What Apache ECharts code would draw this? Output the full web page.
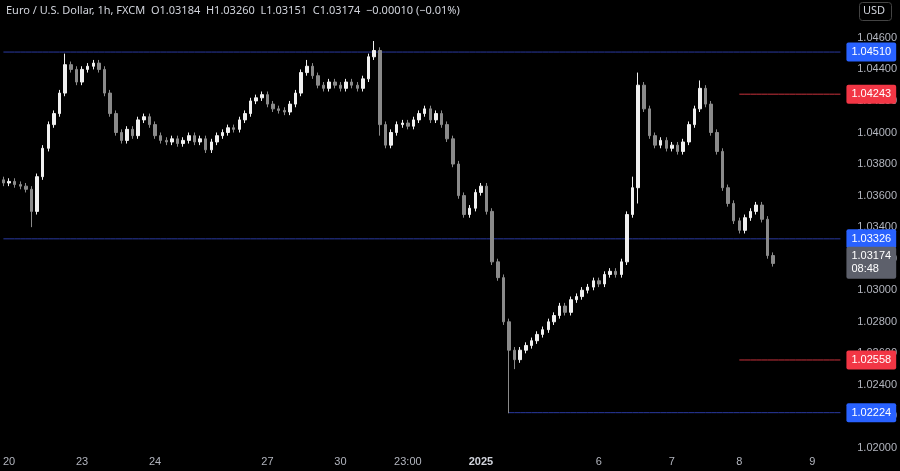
<html style="height: 100%">
<head>
	<meta charset="utf-8">
	<script type="text/javascript" src="https://cdn.jsdelivr.net/npm/echarts@6/dist/echarts.min.js"></script>
</head>
<body style="height: 100%; margin: 0; background: #000">
	<div id="container" style="height:471px;width:900px"></div>
</body>
<script type="text/javascript">
	// 2h candles, closes (open = previous close)
	var closes = [
		1.0368, 1.0369, 1.0367, 1.0366, 1.0364, 1.0350, 1.0372, 1.0390, 1.0405, 1.0412,
		1.0425, 1.0443, 1.0440, 1.0432, 1.0440, 1.0442, 1.0444, 1.0440, 1.0425, 1.0412,
		1.0400, 1.0395, 1.0402, 1.0398, 1.0408, 1.0410, 1.0405, 1.0398, 1.0395, 1.0394,
		1.0396, 1.0393, 1.0395, 1.0398, 1.0394, 1.0396, 1.0389, 1.0394, 1.0398, 1.0400,
		1.0403, 1.0402, 1.0408, 1.0412, 1.0420, 1.0422, 1.0424, 1.0418, 1.0415, 1.0414,
		1.0413, 1.0418, 1.0425, 1.0438, 1.0442, 1.0436, 1.0430, 1.0428, 1.0432, 1.0430,
		1.0428, 1.0432, 1.0430, 1.0428, 1.0434, 1.0448, 1.0452, 1.0405, 1.0392, 1.0400,
		1.0405, 1.0406, 1.0404, 1.0408, 1.0412, 1.0415, 1.0408, 1.0412, 1.0405, 1.0396,
		1.0380, 1.0360, 1.0348, 1.0352, 1.0362, 1.0366, 1.0350, 1.0318, 1.0308, 1.0280,
		1.0262, 1.0256, 1.0262, 1.0265, 1.0268, 1.0272, 1.0275, 1.0280, 1.0284, 1.0290,
		1.0286, 1.0294, 1.0296, 1.0300, 1.0302, 1.0306, 1.0304, 1.0310, 1.0312, 1.0310,
		1.0318, 1.0348, 1.0365, 1.0430, 1.0415, 1.0398, 1.0392, 1.0395, 1.0390, 1.0392,
		1.0388, 1.0394, 1.0405, 1.0415, 1.0428, 1.0418, 1.0400, 1.0388, 1.0365, 1.0355,
		1.0344, 1.0338, 1.0346, 1.0350, 1.0354, 1.0345, 1.0322, 1.0317
	];
	// wick extremes where they stand out
	var highs = { 11: 1.0450, 54: 1.0446, 66: 1.0458, 113: 1.0438, 124: 1.0433, 112: 1.0372 };
	var lows = { 5: 1.0340, 90: 1.0222, 91: 1.0250, 67: 1.0398, 113: 1.0355 };
	var dayLabels = { 1: '20', 14: '23', 27: '24', 47: '27', 60: '30', 72: '23:00', 85: '2025', 106: '6', 119: '7', 131: '8', 144: '9' };
	// [value, first slot, line colour, tag colour]
	var levels = [
		[1.04510, 0, '#2a3aa0', '#2962ff'],
		[1.03326, 0, '#2a3aa0', '#2962ff'],
		[1.04243, 131, '#c8323c', '#f23645'],
		[1.02558, 131, '#c8323c', '#f23645'],
		[1.02224, 90, '#2a3aa0', '#2962ff']
	];
	var lastPrice = 1.03174;
	var slots = 150;

	var cats = [], candles = [];
	for (var i = 0; i < slots; i++) cats.push(dayLabels[i] || '');
	for (var i = 0; i < closes.length; i++) {
		var o = i ? closes[i - 1] : 1.0370, c = closes[i];
		var h = highs[i] || Math.max(o, c) + 0.0002;
		var l = lows[i] || Math.min(o, c) - 0.0002;
		candles.push([o, c, l, h]);
	}

	function levelSeries(v, from, color, bg, txt, hidden) {
		var d = [];
		for (var i = 0; i < slots; i++) d.push(i >= from ? v : null);
		return {
			type: 'line', data: d, showSymbol: false, silent: true, z: 1,
			lineStyle: { color: color, width: 1, opacity: hidden ? 0 : 1 },
			endLabel: { show: true, distance: 6, backgroundColor: bg, color: '#fff', fontSize: 11, padding: [3, 5], lineHeight: 13, borderRadius: 2, formatter: txt }
		};
	}

	var series = [{
		type: 'candlestick',
		data: candles,
		barWidth: 3, z: 3,
		itemStyle: { color: '#f0f0f0', color0: '#8a8a8a', borderColor: '#f0f0f0', borderColor0: '#8a8a8a', borderWidth: 1 }
	}];
	levels.forEach(function (lv) { series.push(levelSeries(lv[0], lv[1], lv[2], lv[3], lv[0].toFixed(5))); });
	series.push(levelSeries(lastPrice, slots - 2, '#000', '#5d606b', lastPrice.toFixed(5) + '\n08:48', true));

	var chart = echarts.init(document.getElementById('container'));
	chart.setOption({
		backgroundColor: '#000',
		animation: false,
		grid: { left: -3, right: 50, top: 0, bottom: 23 },
		graphic: [
			{ type: 'text', left: 6, top: 5, style: { text: 'Euro / U.S. Dollar, 1h, FXCM  O1.03184  H1.03260  L1.03151  C1.03174  −0.00010 (−0.01%)', fill: '#d1d4dc', font: '11px "Noto Sans"' } },
			{ type: 'rect', right: 8, top: 2, shape: { width: 32, height: 18, r: 3 }, style: { fill: '#000', stroke: '#444', lineWidth: 1 } },
			{ type: 'text', right: 15, top: 5, style: { text: 'USD', fill: '#d1d4dc', font: '11px "Noto Sans"' } }
		],
		xAxis: {
			type: 'category', data: cats,
			axisLine: { show: false }, axisTick: { show: false }, splitLine: { show: false },
			axisLabel: {
				interval: 0, color: '#b2b5be', fontSize: 11, margin: 8,
				formatter: function (v) { return v === '2025' ? '{b|2025}' : v; },
				rich: { b: { fontWeight: 'bold', color: '#d1d4dc', fontSize: 11 } }
			}
		},
		yAxis: {
			type: 'value', position: 'right', min: 1.0200, max: 1.0484, interval: 0.002,
			axisLine: { show: false }, axisTick: { show: false }, splitLine: { show: false },
			axisLabel: { color: '#b2b5be', fontSize: 11, margin: 14, formatter: function (v) { return v > 1.0475 ? '' : v.toFixed(5); } }
		},
		series: series
	});
</script>
</html>
